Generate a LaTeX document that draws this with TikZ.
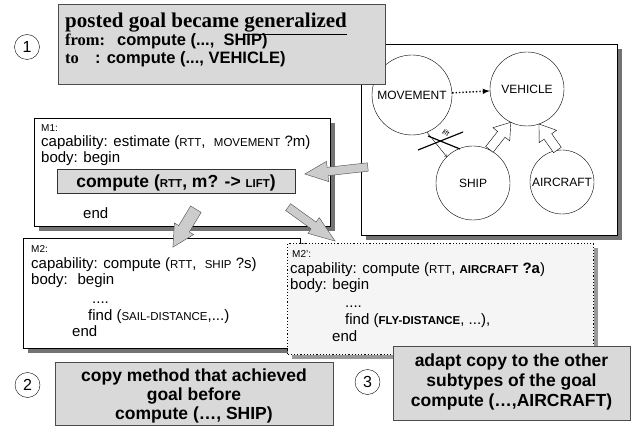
\documentclass[tikz,border=0pt]{standalone}
\usepackage{fontspec}
\setmainfont{Liberation Serif}
\setsansfont{Liberation Sans}
\usetikzlibrary{calc,shapes.arrows,shadows}

% small upper case words inside the methods
\newcommand{\term}[1]{{\fontsize{11.5}{11.5}\selectfont #1}}
% a block arrow from one point to another
\newcommand{\fatarrow}[3][]{%
  \path let \p1=($(#3)-(#2)$) in
    node[#1, anchor=tail, rotate={atan2(\y1,\x1)},
         minimum height={veclen(\x1,\y1)}] at (#2) {};}

\tikzset{
  txt/.style={anchor=base west, inner sep=0pt, font=\sffamily\fontsize{15}{18}\selectfont},
  small/.style={txt, font=\sffamily\fontsize{10}{12}\selectfont},
  goal/.style={anchor=base, inner sep=0pt, font=\sffamily\bfseries\fontsize{17.5}{19}\selectfont},
  graybox/.style={draw=black!70, fill=black!15, anchor=north west, inner sep=0pt},
  method/.style={draw=black, fill=white, anchor=north west, inner sep=0pt},
  shade5/.style={general shadow={fill=black!55, shadow xshift=5pt, shadow yshift=-5pt}},
  shade4/.style={general shadow={fill=black!40, shadow xshift=4pt, shadow yshift=-4pt}},
  stepnum/.style={draw, circle, minimum size=25pt, inner sep=0pt, font=\sffamily\fontsize{16}{16}\selectfont},
  concept/.style={draw, circle, inner sep=0pt, font=\sffamily\fontsize{12}{12}\selectfont},
  copyarrow/.style={single arrow, draw=black!70, fill=black!20, inner xsep=0pt, inner ysep=4pt,
    single arrow head extend=6pt, single arrow tip angle=48},
  isaarrow/.style={single arrow, draw=black, fill=white, inner xsep=0pt, inner ysep=4.5pt,
    single arrow head extend=6pt, single arrow tip angle=70}
}

\begin{document}
\begin{tikzpicture}[x=1pt, y=-1pt]
    \fill[white] (0,0) rectangle (631,427);

    % the taxonomy of the goal types
    \node[method, shade5, minimum width=256pt, minimum height=191pt] (taxo) at (361,44) {};
    \node[concept, minimum size=80pt] (mov) at (412,95) {MOVEMENT};
    \node[concept, minimum size=74pt] (veh) at (527,89) {VEHICLE};
    \node[concept, minimum size=74pt] (ship) at (473,183) {SHIP};
    \node[concept, minimum size=64pt] (air) at (562,182) {AIRCRAFT};
    \draw[dotted, line width=1.4pt, -latex] (mov) -- (veh);
    \fatarrow[isaarrow]{ship.64}{veh.244}
    \fatarrow[isaarrow]{air.98}{veh.289}
    % the lift link that is cut
    \draw[->] (mov.292) -- (ship.135);
    \draw[line width=1.2pt] (418,150) -- (463,132);
    \draw[line width=1.2pt] (428,136) -- (460,149);
    \node[rotate=-35, inner sep=0pt, font=\sffamily\fontsize{7}{7}\selectfont] (lift) at (446,133) {lift};

    % step 1: the goal
    \node[graybox, minimum width=327pt, minimum height=80pt] (goalbox) at (58,4) {};
    \node[stepnum] (one) at (27,47) {1};
    \node[txt, font=\rmfamily\bfseries\fontsize{21}{21}\selectfont] (posted) at (65,28) {posted goal became \underline{generalized}};
    \node[txt, font=\rmfamily\bfseries\fontsize{16.5}{17}\selectfont] (fromlbl) at (65,46) {from:};
    \node[txt, font=\sffamily\bfseries\fontsize{16.5}{17}\selectfont] (fromgoal) at (117,46) {compute (...,~ SHIP)};
    \node[txt, font=\rmfamily\bfseries\fontsize{16.5}{17}\selectfont] (tolbl) at (65,64) {to};
    \node[txt, font=\sffamily\bfseries\fontsize{16.5}{17}\selectfont] (togoal) at (95,64) {: compute (..., VEHICLE)};

    % method M1
    \node[method, shade5, minimum width=296pt, minimum height=108pt] (m1) at (34,118) {};
    \node[small] (m1name) at (41,132) {M1:};
    \node[txt] (m1cap) at (41,147) {capability: estimate (\term{RTT},~ \term{MOVEMENT} ?m)};
    \node[txt] (m1body) at (41,163) {body: begin};
    \node[graybox, draw=black!80, minimum width=238pt, minimum height=24pt] (sub) at (57,169) {};
    \node[goal] (subgoal) at (176,188) {compute (\term{RTT}, m? -> \term{LIFT})};
    \node[txt] (m1end) at (83,219) {end};

    % method M2
    \node[method, shade5, minimum width=277pt, minimum height=110pt] (m2) at (23,238) {};
    \node[small] (m2name) at (31,253) {M2:};
    \node[txt] (m2cap) at (31,269) {capability: compute (\term{RTT},~ \term{SHIP} ?s)};
    \node[txt] (m2body) at (31,285) {body:~ begin};
    \node[txt] (m2dots) at (92,303) {....};
    \node[txt] (m2find) at (88,320) {find (\term{SAIL-DISTANCE},...)};
    \node[txt] (m2end) at (72,336) {end};

    % method M2'
    \node[method, dotted, line width=1.2pt, fill=black!4, shade4, minimum width=306pt, minimum height=111pt] (m2new) at (287,243) {};
    \node[small] (m2nname) at (292,258) {M2':};
    \node[txt] (m2ncap) at (290,274) {capability: compute (\term{RTT}, \textbf{\term{AIRCRAFT} ?a})};
    \node[txt] (m2nbody) at (290,290) {body: begin};
    \node[txt] (m2ndots) at (345,307) {....};
    \node[txt] (m2nfind) at (345,324) {find (\textbf{\term{FLY-DISTANCE}}, ...),};
    \node[txt] (m2nend) at (332,341) {end};

    % the copy arrows
    \coordinate (a1) at (368,167);
    \coordinate (a2) at (305,174);
    \coordinate (b1) at (196,209);
    \coordinate (b2) at (173,247);
    \coordinate (c1) at (288,207);
    \coordinate (c2) at (335,241);
    \fatarrow[copyarrow]{a1}{a2}
    \fatarrow[copyarrow, inner ysep=6pt, single arrow head extend=5pt, single arrow tip angle=55]{b1}{b2}
    \fatarrow[copyarrow, single arrow head extend=5.5pt, single arrow tip angle=40]{c1}{c2}

    % steps 2 and 3
    \node[graybox, minimum width=278pt, minimum height=63pt] (copybox) at (55,362) {};
    \node[stepnum] (two) at (27.5,385) {2};
    \node[goal] (copy1) at (194,381) {copy method that achieved};
    \node[goal] (copy2) at (194,400) {goal before};
    \node[goal] (copy3) at (194,419) {compute (…, SHIP)};
    \node[graybox, minimum width=237pt, minimum height=74pt] (adaptbox) at (393,346) {};
    \node[stepnum] (three) at (367.5,382) {3};
    \node[goal] (adapt1) at (511.5,366) {adapt copy to the other};
    \node[goal] (adapt2) at (511.5,386) {subtypes of the goal};
    \node[goal] (adapt3) at (511.5,406) {compute (…,AIRCRAFT)};
\end{tikzpicture}
\end{document}
